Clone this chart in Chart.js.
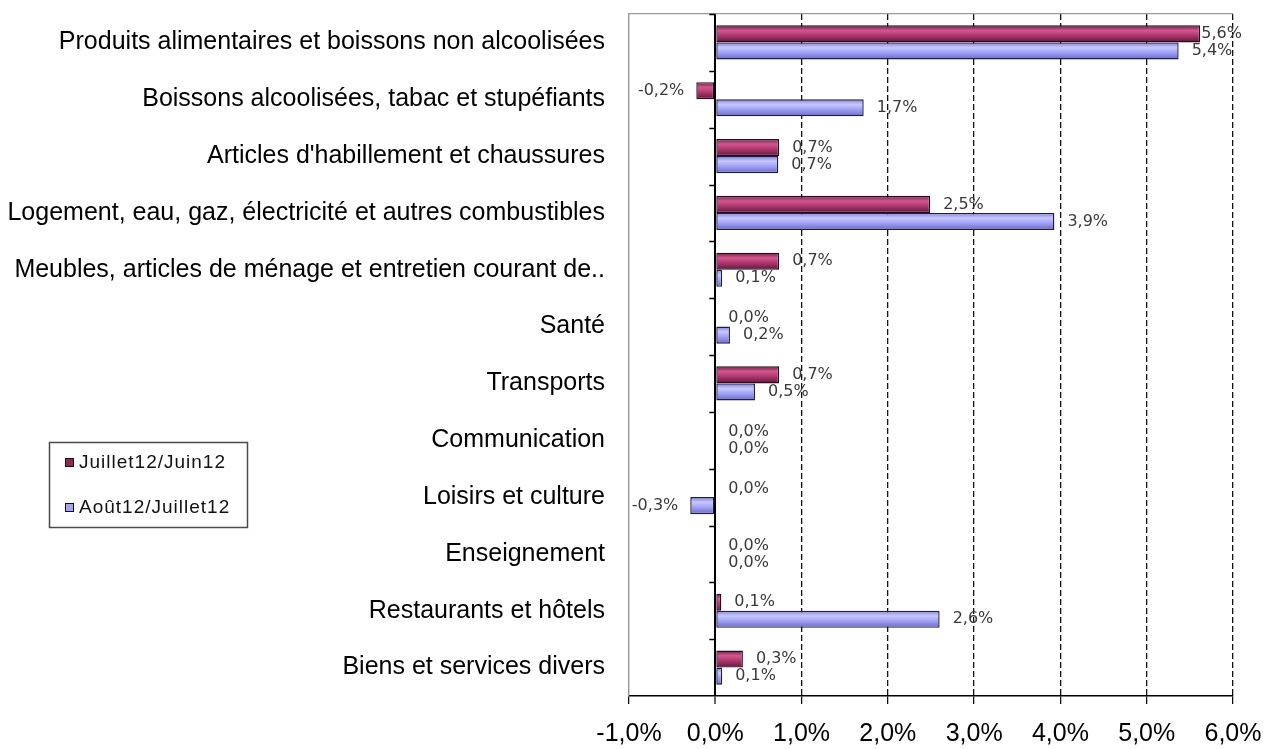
<!DOCTYPE html>
<html lang="fr">
<head>
<meta charset="utf-8">
<title>Variation des prix par fonction</title>
<script src="https://cdn.jsdelivr.net/npm/chart.js@4.4.1/dist/chart.umd.min.js"></script>
<style>
html, body { margin: 0; padding: 0; background: #fff; }
#zone { position: relative; width: 1267px; height: 749px; }
</style>
</head>
<body>
<div id="zone"><canvas id="graphique" width="1267" height="749"></canvas></div>
<script>
var categories = [
	'Produits alimentaires et boissons non alcoolisées',
	'Boissons alcoolisées, tabac et stupéfiants',
	'Articles d\'habillement et chaussures',
	'Logement, eau, gaz, électricité et autres combustibles',
	'Meubles, articles de ménage et entretien courant de..',
	'Santé',
	'Transports',
	'Communication',
	'Loisirs et culture',
	'Enseignement',
	'Restaurants et hôtels',
	'Biens et services divers'
];
var nomsSeries = ['Juillet12/Juin12', 'Août12/Juillet12'];
var juilletJuin = [5.62, -0.22, 0.74, 2.49, 0.74, 0.0, 0.74, 0.0, 0.0, 0.0, 0.07, 0.32];
var aoutJuillet = [5.37, 1.72, 0.73, 3.93, 0.08, 0.17, 0.46, 0.0, -0.29, 0.0, 2.60, 0.08];
var axeMin = -1;
var axeMax = 6;
var pas = 1;

var largeurBandes = 0.6;
// couleurs des barres : haut, reflet, milieu, bas
var degradeMagenta = ['#6a1f45', '#d4568f', '#ad376e', '#5c1738'];
var degradeBleu = ['#7e7ed8', '#c8c8ff', '#a0a0f7', '#6a6ac0'];
var couleursPleines = ['#8c2a56', '#a4a4f2'];
var bordures = ['#2b0a1c', '#1c1c52'];

function enPourcent(v) {
	return v.toFixed(1).replace('.', ',') + '%';
}

// dégradé vertical calculé pour chaque barre
function degrade(couleurs, rang) {
	return function (c) {
		var chart = c.chart;
		var y = chart.scales.y;
		if (!y || c.type !== 'data' || !chart.chartArea) {
			return couleurs[2];
		}
		var bande = (y.bottom - y.top) / categories.length;
		var epaisseur = bande * largeurBandes / 2;
		var haut = y.getPixelForValue(c.dataIndex) + (rang - 1) * epaisseur;
		var g = chart.ctx.createLinearGradient(0, haut, 0, haut + epaisseur);
		g.addColorStop(0, couleurs[0]);
		g.addColorStop(0.3, couleurs[1]);
		g.addColorStop(0.6, couleurs[2]);
		g.addColorStop(1, couleurs[3]);
		return g;
	};
}

var etiquettes = {
	id: 'etiquettes',
	afterDatasetsDraw: function (chart) {
		var ctx = chart.ctx;
		var zone = chart.chartArea;
		ctx.save();
		ctx.font = '16px "DejaVu Sans", sans-serif';
		ctx.fillStyle = '#3a3a3a';
		ctx.textBaseline = 'middle';
		ctx.textAlign = 'left';
		chart.data.datasets.forEach(function (ds, i) {
			chart.getDatasetMeta(i).data.forEach(function (barre, j) {
				var v = ds.data[j];
				var texte = enPourcent(v);
				var w = ctx.measureText(texte).width;
				var x;
				if (v < 0) {
					x = barre.x - 12 - w;
					if (x < zone.left - 2) x = zone.left - 2;
				} else {
					x = barre.x + 13;
					if (x + w > zone.right + 9) x = zone.right + 9 - w;
				}
				ctx.fillText(texte, x, barre.y);
			});
		});
		ctx.restore();
	}
};

// petites graduations sur l'axe du zéro
var axeZero = {
	id: 'axeZero',
	beforeDatasetsDraw: function (chart) {
		var ctx = chart.ctx;
		var x0 = chart.scales.x.getPixelForValue(0);
		var y = chart.scales.y;
		var bande = (y.bottom - y.top) / categories.length;
		ctx.save();
		ctx.strokeStyle = '#000';
		ctx.lineWidth = 1.5;
		ctx.beginPath();
		for (var i = 0; i < categories.length; i++) {
			var yy = Math.round(y.top + i * bande) + 0.5;
			ctx.moveTo(x0 - 6, yy);
			ctx.lineTo(x0, yy);
		}
		ctx.stroke();
		ctx.restore();
	}
};

var legende = {
	id: 'legende',
	afterDraw: function (chart) {
		var ctx = chart.ctx;
		ctx.save();
		ctx.strokeStyle = '#4a4a4a';
		ctx.lineWidth = 1.5;
		ctx.strokeRect(49.5, 442.5, 198, 85);
		ctx.font = '19px "Liberation Sans", Arial, sans-serif';
		ctx.letterSpacing = '1px';
		ctx.textBaseline = 'middle';
		chart.data.datasets.forEach(function (ds, i) {
			var y = 462 + i * 45;
			ctx.fillStyle = couleursPleines[i];
			ctx.fillRect(65, y - 4, 9, 9);
			ctx.strokeStyle = '#111';
			ctx.lineWidth = 1;
			ctx.strokeRect(65.5, y - 3.5, 8, 8);
			ctx.fillStyle = '#111';
			ctx.fillText(ds.label, 79, y + 1);
		});
		ctx.restore();
	}
};

Chart.defaults.font.family = '"Liberation Sans", Arial, sans-serif';

var config = {
	type: 'bar',
	data: {
		labels: categories,
		datasets: [
			{
				label: nomsSeries[0],
				data: juilletJuin,
				backgroundColor: degrade(degradeMagenta, 0),
				borderColor: bordures[0],
				borderWidth: 1.4,
				borderSkipped: false,
				categoryPercentage: largeurBandes,
				barPercentage: 1
			},
			{
				label: nomsSeries[1],
				data: aoutJuillet,
				backgroundColor: degrade(degradeBleu, 1),
				borderColor: bordures[1],
				borderWidth: 1.4,
				borderSkipped: false,
				categoryPercentage: largeurBandes,
				barPercentage: 1
			}
		]
	},
	options: {
		indexAxis: 'y',
		responsive: false,
		animation: false,
		layout: { padding: { top: 14, right: 34, left: 0, bottom: 0 } },
		plugins: {
			legend: { display: false },
			tooltip: { enabled: false }
		},
		scales: {
			x: {
				min: axeMin,
				max: axeMax,
				ticks: {
					stepSize: pas,
					color: '#000',
					font: { size: 25 },
					padding: 15,
					maxRotation: 0,
					callback: function (v) { return enPourcent(v); }
				},
				grid: {
					color: function (c) {
						if (!c.tick) return '#000';
						if (c.tick.value < 0) return '#9a9a9a';
						return c.tick.value === 0 ? '#000' : '#111';
					},
					lineWidth: function (c) {
						return c.tick && c.tick.value === 0 ? 2 : 1.3;
					},
					tickColor: '#000',
					tickLength: 8,
					tickWidth: 1.2,
					tickBorderDash: []
				},
				border: {
					display: true,
					color: '#000',
					width: 1.5,
					dash: function (c) {
						return c.tick && c.tick.value > 0 ? [6, 3] : [];
					}
				},
				afterFit: function (scale) {
					scale.height = 53;
					scale.paddingLeft = 0;
					scale.paddingRight = 0;
				}
			},
			y: {
				ticks: {
					color: '#000',
					font: { size: 25 },
					padding: 24,
					autoSkip: false
				},
				grid: {
					offset: true,
					drawTicks: false,
					color: function (c) { return c.index === 0 ? '#9a9a9a' : 'rgba(0,0,0,0)'; },
					lineWidth: 1.2
				},
				border: { display: true, color: '#9a9a9a', width: 1.2 },
				afterFit: function (scale) {
					scale.width = 629;
					scale.paddingTop = 0;
					scale.paddingBottom = 0;
				}
			}
		}
	},
	plugins: [axeZero, etiquettes, legende]
};

var graphique = new Chart(document.getElementById('graphique').getContext('2d'), config);
</script>
</body>
</html>
